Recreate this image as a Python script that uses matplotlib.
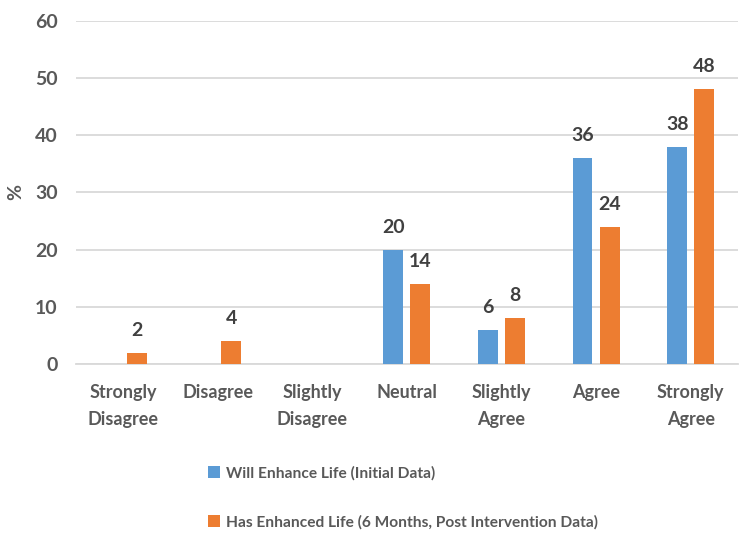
import numpy as np
import matplotlib.pyplot as plt

categories = ['Strongly\nDisagree', 'Disagree', 'Slightly\nDisagree', 'Neutral',
              'Slightly\nAgree', 'Agree', 'Strongly\nAgree']
initial = [0, 0, 0, 20, 6, 36, 38]
post = [2, 4, 0, 14, 8, 24, 48]
series_names = ['Will Enhance Life (Initial Data)',
                'Has Enhanced Life (6 Months, Post Intervention Data)']

plt.rcParams['font.family'] = ['Lato', 'DejaVu Sans']
txt = '#595959'

fig = plt.figure(figsize=(7.5, 5.45), dpi=100)
ax = fig.add_axes([0.101, 0.332, 0.883, 0.63])

x = np.arange(len(categories))
w = 0.21
b1 = ax.bar(x - 0.143, initial, w, color='#5B9BD5', label=series_names[0], zorder=3)
b2 = ax.bar(x + 0.143, post, w, color='#ED7D31', label=series_names[1], zorder=3)

for bars, vals in ((b1, initial), (b2, post)):
    for bar, v in zip(bars, vals):
        if v:
            ax.annotate(str(v), (bar.get_x() + bar.get_width() / 2, v),
                        xytext=(0, 10), textcoords='offset points', ha='center', va='bottom',
                        fontsize=14, fontweight='bold', color='#404040')

ax.set_xlim(-0.5, len(categories) - 0.5)
ax.set_ylim(0, 60)
ax.set_yticks(range(0, 61, 10))
ax.set_xticks(x)
ax.set_xticklabels(categories, fontsize=13, fontweight='bold', color=txt, linespacing=1.75)
ax.tick_params(axis='y', labelsize=14, labelcolor=txt, length=0, pad=13)
ax.tick_params(axis='x', length=0, pad=14)
for lab in ax.get_yticklabels():
    lab.set_fontweight('bold')
ax.grid(axis='y', color='#d9d9d9', linewidth=1.3, zorder=0)
for s in ['top', 'right', 'left']:
    ax.spines[s].set_visible(False)
ax.spines['bottom'].set_color('#d9d9d9')
ax.spines['bottom'].set_linewidth(1.3)
ax.set_ylabel('%', fontsize=14, fontweight='bold', color=txt, labelpad=8)

fig.legend(loc='upper left', bbox_to_anchor=(0.258, 0.17), frameon=False,
           labelcolor=txt, handlelength=0.8, handleheight=0.8, handletextpad=0.4,
           labelspacing=2.2, prop={'weight': 'bold', 'size': 11.2})

fig.savefig('out.png')
